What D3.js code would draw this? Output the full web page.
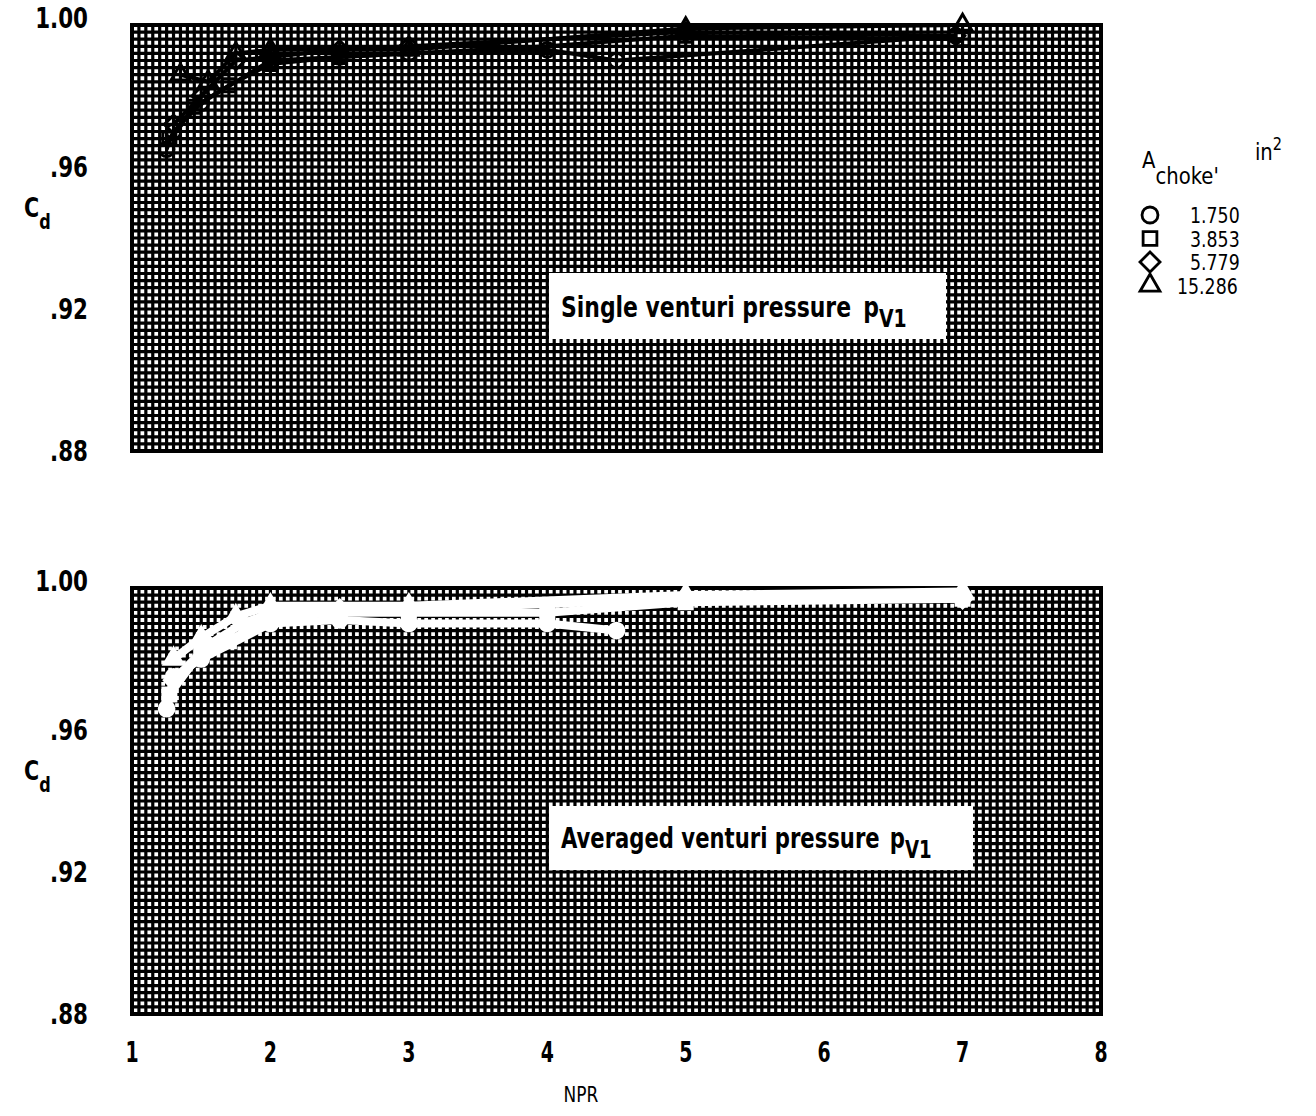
<!DOCTYPE html>
<html>
<head>
<meta charset="utf-8">
<script src="https://cdn.jsdelivr.net/npm/d3@7"></script>
<style>
  body { margin: 0; background: #fff; }
  svg text { font-family: "DejaVu Sans Condensed", "DejaVu Sans", sans-serif; font-stretch: condensed; font-weight: bold; fill: #000; }
</style>
</head>
<body>
<div id="chart"></div>
<script>
// axis ticks
const nprTicks = [1, 2, 3, 4, 5, 6, 7, 8];
const cdTicks = [0.88, 0.92, 0.96, 1.00];
const cdTickLabels = ['.88', '.92', '.96', '1.00'];

// legend
const chokeAreas = ['1.750', '3.853', '5.779', '15.286'];
const chokeSymbols = ['circle', 'square', 'diamond', 'triangle'];

// single venturi pressure (top panel)
const singleNpr = [
  [1.25, 1.3, 1.5, 2.0, 2.5, 3.0, 4.0, 4.5, 6.95],
  [1.27, 1.45, 1.7, 2.0, 2.5, 3.0, 4.0, 5.0, 7.0],
  [1.3, 1.5, 1.75, 2.0, 2.5, 3.0, 5.0, 6.95],
  [1.35, 1.55, 1.75, 2.0, 3.0, 5.0, 7.0]
];
const singleCd = [
  [0.965, 0.970, 0.978, 0.990, 0.991, 0.992, 0.993, 0.990, 0.997],
  [0.968, 0.977, 0.983, 0.989, 0.991, 0.992, 0.994, 0.997, 0.996],
  [0.972, 0.980, 0.990, 0.991, 0.993, 0.994, 0.998, 0.997],
  [0.986, 0.984, 0.992, 0.993, 0.993, 0.999, 1.000]
];

// averaged venturi pressure (bottom panel)
const avgNpr = [
  [1.25, 1.3, 1.5, 2.0, 2.5, 3.0, 4.0, 4.5],
  [1.27, 1.5, 1.7, 2.0, 2.5, 3.0, 4.0, 5.0, 7.0],
  [1.3, 1.55, 1.8, 2.0, 2.5, 3.0, 5.0, 7.0],
  [1.3, 1.5, 1.75, 2.0, 3.0, 5.0, 7.0]
];
const avgCd = [
  [0.966, 0.975, 0.980, 0.990, 0.991, 0.990, 0.990, 0.988],
  [0.970, 0.982, 0.985, 0.992, 0.993, 0.993, 0.993, 0.996, 0.997],
  [0.974, 0.984, 0.990, 0.993, 0.994, 0.994, 0.997, 0.997],
  [0.980, 0.986, 0.992, 0.995, 0.995, 0.998, 0.999]
];

const width = 1316, height = 1116;

const svg = d3.select('#chart')
    .append('svg')
    .attr('width', width)
    .attr('height', height);

const x = d3.scaleLinear().domain([1, 8]).range([132, 1101]);

// square turned 45 deg for the diamond, like the plotted one
const diamond = {
  draw(ctx, size) {
    const r = Math.sqrt(size / 2);
    ctx.moveTo(0, -r); ctx.lineTo(r, 0); ctx.lineTo(0, r); ctx.lineTo(-r, 0); ctx.closePath();
  }
};
const symbolType = {
  circle: d3.symbolCircle,
  square: d3.symbolSquare,
  diamond: diamond,
  triangle: d3.symbolTriangle
};
const symbolSize = { circle: 170, square: 170, diamond: 170, triangle: 150 };
const legendSize = { circle: 200, square: 190, diamond: 200, triangle: 170 };

// condensed text: squeeze horizontally around its anchor x
const sqText = (parent, tx, ty, sx, size, str, anchor) => {
  return parent.append('text')
    .attr('transform', `translate(${tx},${ty}) scale(${sx},1)`)
    .attr('text-anchor', anchor || 'start')
    .style('font-size', size + 'px')
    .text(str);
};

const makePanel = (top, bottom, nprs, cds, label, labelBox, ink, lineW) => {
  const y = d3.scaleLinear().domain([0.88, 1.00]).range([bottom, top]);
  const g = svg.append('g');

  // graph paper
  g.append('rect')
    .attr('x', x(1)).attr('y', y(1.00))
    .attr('width', x(8) - x(1)).attr('height', y(0.88) - y(1.00))
    .attr('fill', '#fff');

  g.selectAll('.vgrid')
    .data(d3.range(0, 141).map(i => 1 + i * 0.05))
    .enter().append('line')
      .attr('x1', d => x(d)).attr('x2', d => x(d))
      .attr('y1', y(1.00)).attr('y2', y(0.88))
      .attr('stroke', '#000').attr('stroke-width', 3.2);

  g.selectAll('.hgrid')
    .data(d3.range(0, 61).map(i => 0.88 + i * 0.002))
    .enter().append('line')
      .attr('x1', x(1)).attr('x2', x(8))
      .attr('y1', d => y(d)).attr('y2', d => y(d))
      .attr('stroke', '#000').attr('stroke-width', 3.2);

  g.append('rect')
    .attr('x', x(1)).attr('y', y(1.00))
    .attr('width', x(8) - x(1)).attr('height', y(0.88) - y(1.00))
    .attr('fill', 'none').attr('stroke', '#000').attr('stroke-width', 4);

  // y tick labels
  cdTicks.forEach((d, i) => {
    sqText(g, 88, y(d) + (d === 1 ? 3 : 10), 0.85, 28, cdTickLabels[i], 'end');
  });

  // C_d label
  const cd = g.append('text')
    .attr('transform', `translate(24,${y(0.946)}) scale(0.85,1)`)
    .style('font-size', '27px')
    .text('C');
  cd.append('tspan').attr('dy', 12).style('font-size', '21px').text('d');

  // data curves
  const line = d3.line().x(d => x(d[0])).y(d => y(d[1]));
  nprs.forEach((xs, s) => {
    const pts = xs.map((v, i) => [v, cds[s][i]]);
    g.append('path')
      .datum(pts)
      .attr('d', line)
      .attr('fill', 'none')
      .attr('stroke', ink)
      .attr('stroke-width', lineW)
      .attr('stroke-linejoin', 'round');

    const sym = chokeSymbols[s];
    g.selectAll('.pt' + s)
      .data(pts)
      .enter().append('path')
        .attr('transform', d => `translate(${x(d[0])},${y(d[1])})`)
        .attr('d', d3.symbol().type(symbolType[sym]).size(symbolSize[sym]))
        .attr('fill', ink === '#fff' ? '#fff' : 'none')
        .attr('stroke', ink)
        .attr('stroke-width', 3);
  });

  // label box
  g.append('rect')
    .attr('x', labelBox.x).attr('y', labelBox.y)
    .attr('width', labelBox.w).attr('height', labelBox.h)
    .attr('fill', '#fff');
  const t = g.append('text')
    .attr('transform', `translate(${labelBox.x + 12},${labelBox.y + labelBox.h * 0.66}) scale(${labelBox.sx},1)`)
    .style('font-size', '28px')
    .text(label);
  t.append('tspan').attr('dx', labelBox.gap).text('p');
  t.append('tspan').attr('dy', 10).style('font-size', '24px').text('V1');

  return y;
};

makePanel(25, 451, singleNpr, singleCd, 'Single venturi pressure',
  { x: 549, y: 273, w: 397, h: 66, sx: 0.87, gap: 14 }, '#000', 4);
makePanel(588, 1014, avgNpr, avgCd, 'Averaged venturi pressure',
  { x: 549, y: 806, w: 424, h: 64, sx: 0.84, gap: 12 }, '#fff', 8);

// x axis labels
nprTicks.forEach(d => {
  sqText(svg, x(d), 1062, 0.75, 28, String(d), 'middle');
});

svg.append('text')
  .attr('transform', 'translate(581,1102) scale(0.9,1)')
  .attr('text-anchor', 'middle')
  .style('font-size', '21px')
  .style('font-weight', 'normal')
  .text('NPR');

// legend title
const title = svg.append('text')
  .attr('transform', 'translate(1142,168) scale(0.95,1)')
  .style('font-size', '23px')
  .style('font-weight', 'normal')
  .text('A');
title.append('tspan').attr('dy', 16).text("choke'");
title.append('tspan').attr('dx', 38).attr('dy', -24).text('in');
title.append('tspan').attr('dy', -10).style('font-size', '17px').text('2');

const legend = svg.selectAll('.legend')
  .data(chokeAreas)
  .enter().append('g')
    .attr('transform', (d, i) => `translate(1150,${215 + i * 23.5})`);

legend.append('path')
  .attr('d', (d, i) => d3.symbol().type(symbolType[chokeSymbols[i]]).size(legendSize[chokeSymbols[i]])())
  .attr('fill', 'none')
  .attr('stroke', '#000')
  .attr('stroke-width', 2.8);

legend.append('text')
  .attr('transform', d => `translate(${d.length > 5 ? 27 : 40},8) scale(0.92,1)`)
  .style('font-size', '21px')
  .style('font-weight', 'normal')
  .text(d => d);
</script>
</body>
</html>
